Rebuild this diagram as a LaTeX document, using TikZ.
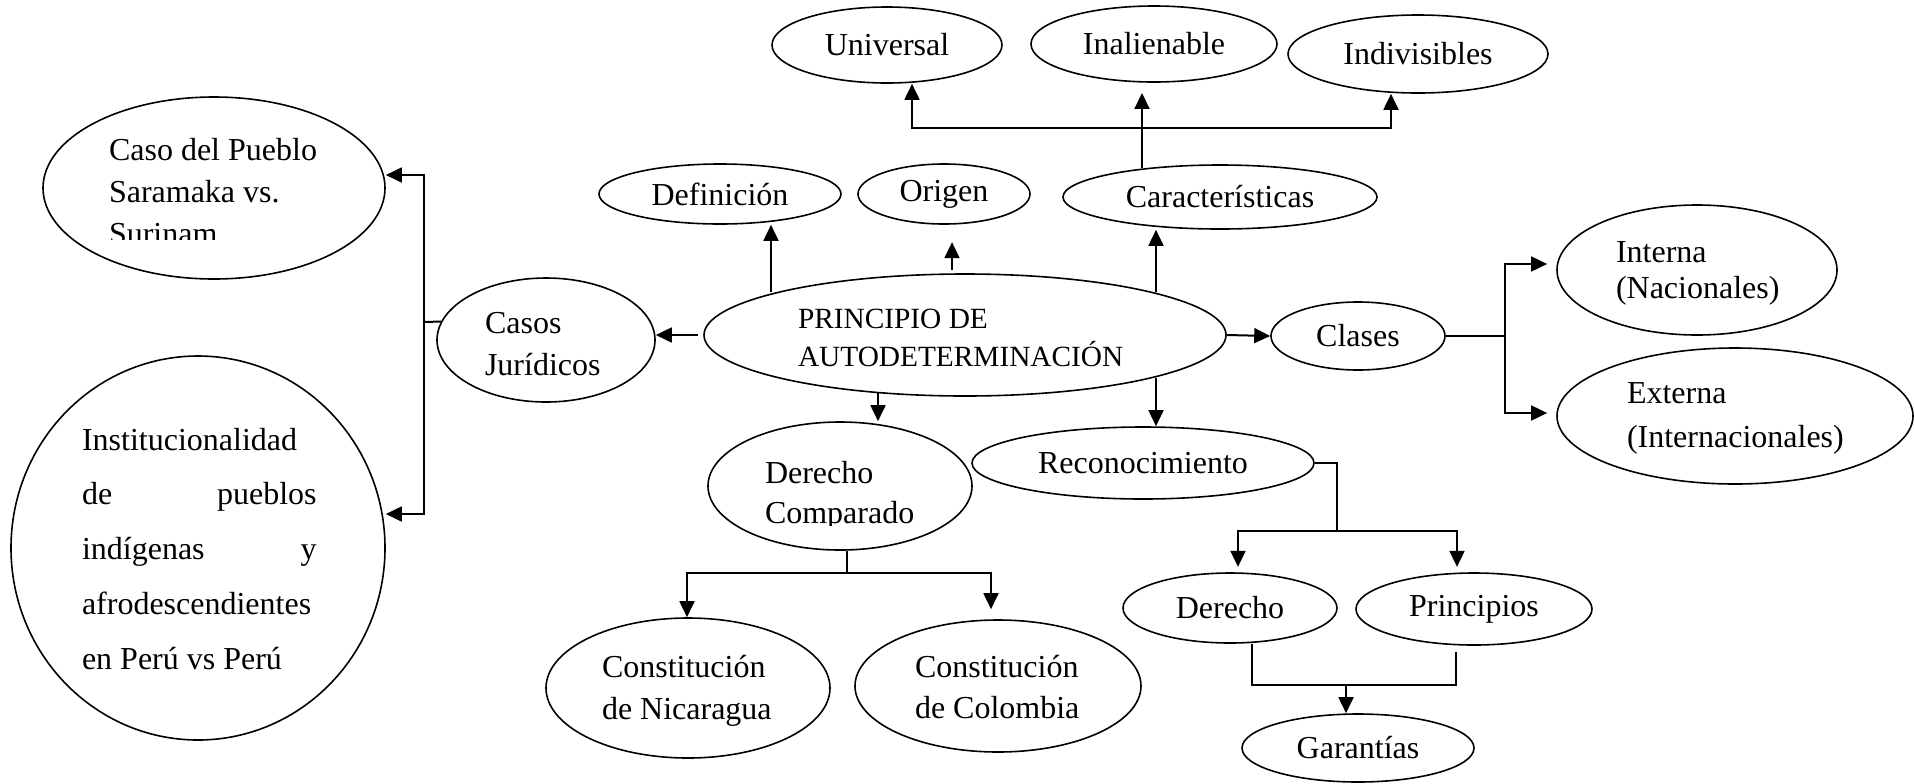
\documentclass[tikz,border=0pt]{standalone}
\usepackage{fontspec}
\setmainfont{Liberation Serif}
\usetikzlibrary{shapes.geometric,arrows.meta}
\begin{document}
\begin{tikzpicture}[x=0.375pt,y=-0.375pt, line width=0.75pt,
  ov/.style 2 args={draw, ellipse, line width=0.6pt, inner sep=0pt, minimum width={0.75pt*#1}, minimum height={0.75pt*#2}, font=\fontsize{12}{14}\selectfont},
  arr/.style={-{Triangle[length=6pt,width=5.6pt]}},
  dbl/.style={{Triangle[length=6pt,width=5.6pt]}-{Triangle[length=6pt,width=5.6pt]}},
  txt/.style={inner sep=0pt, anchor=base west}]
\useasboundingbox (0,0) rectangle (1914,783);
\fill[white] (0,0) rectangle (1914,783);
% ellipses
\node[ov={171}{91}] (caso) at (214,188) {};
\node[ov={187}{192}] (inst) at (198,548) {};
\node[ov={109}{62}] (casos) at (546,340) {};
\node[ov={261}{61}] (princ) at (965,335) {};
\node[ov={121}{30}] (def) at (720,194) {Definición};
\node[ov={86}{30}] (orig) at (944,194) {Origen};
\node[ov={157}{32}] (car) at (1220,197) {Características};
\node[ov={115}{38}] (univ) at (887,45) {Universal};
\node[ov={123}{38}] (inal) at (1154,44) {Inalienable};
\node[ov={130}{39}] (indi) at (1418,54) {Indivisibles};
\node[ov={87}{34}] (cla) at (1358,336) {Clases};
\node[ov={140}{65}] (inte) at (1697,270) {};
\node[ov={178}{68}] (exte) at (1735,416) {};
\node[ov={132}{64}] (dc) at (840,486) {};
\node[ov={171}{36}] (reco) at (1143,463) {Reconocimiento};
\node[ov={107}{35}] (der) at (1230,608) {Derecho};
\node[ov={118}{36}] (prin) at (1474,609) {Principios};
\node[ov={116}{34}] (gar) at (1358,748) {Garantías};
\node[ov={142}{70}] (nic) at (688,688) {};
\node[ov={143}{66}] (col) at (998,686) {};
% texts
\begin{scope}
\clip (90,110) rectangle (420,239);
\node[txt] (casot) at (108,160) {\parbox[t]{120pt}{\raggedright\fontsize{12}{15.75}\selectfont Caso del Pueblo\\ Saramaka vs.\\ Surinam}};
\end{scope}
\node[txt] (instt) at (81,450) {\parbox[t]{88pt}{\fontsize{12}{20.6}\selectfont Institucionalidad\\ de\hfill pueblos\\ indígenas\hfill y\\ afrodescendientes\\ en Perú vs Perú}};
\node[txt] (casost) at (484,333) {\parbox[t]{80pt}{\raggedright\fontsize{12}{15.75}\selectfont Casos\\ Jurídicos}};
\node[txt] (princt) at (797,328) {\parbox[t]{150pt}{\raggedright\fontsize{11}{14.6}\selectfont PRINCIPIO DE\\ AUTODETERMINACIÓN}};
\node[txt] (intet) at (1615,262) {\parbox[t]{90pt}{\raggedright\fontsize{12}{13.5}\selectfont Interna\\ (Nacionales)}};
\node[txt] (extet) at (1626,403) {\parbox[t]{100pt}{\raggedright\fontsize{12}{16.5}\selectfont Externa\\ (Internacionales)}};
\begin{scope}
\clip (700,420) rectangle (980,525);
\node[txt] (dct) at (764,483) {\parbox[t]{90pt}{\raggedright\fontsize{12}{15}\selectfont Derecho\\ Comparado}};
\end{scope}
\node[txt] (nict) at (601,677) {\parbox[t]{90pt}{\raggedright\fontsize{12}{16}\selectfont Constitución\\ de Nicaragua}};
\node[txt] (colt) at (914,677) {\parbox[t]{90pt}{\raggedright\fontsize{12}{15.4}\selectfont Constitución\\ de Colombia}};
% Casos juridicos branches
\coordinate (ct) at (424,175);
\coordinate (cb) at (424,514);
\coordinate (cm) at (424,322);
\draw[dbl] (ct -| caso.east) -- (ct) -- (cb) -- (cb -| inst.east);
\draw (casos.170) -- (cm);
% principio to casos / clases
\draw[arr, shorten <=2pt] (princ.west) -- (princ.west -| casos.east);
\draw[arr] (princ.east) -- (cla.west);
% principio upward
\coordinate (pd) at (771,292);
\draw[arr] (pd) -- (pd |- def.south);
\coordinate (po) at (952,270);
\draw[arr, shorten >=6.5pt] (po) -- (po |- orig.south);
\coordinate (pc) at (1156,292);
\draw[arr] (pc) -- (pc |- car.south);
% caracteristicas to top row
\coordinate (ca) at (1142,168);
\coordinate (bl) at (912,128);
\coordinate (br) at (1391,128);
\draw[arr, shorten >=3.8pt] (ca) -- (ca |- inal.south);
\draw[dbl] (bl |- univ.south) -- (bl) -- (br) -- (br |- indi.south);
% principio downward
\coordinate (pdc) at (878,393);
\draw[arr] (pdc) -- (pdc |- dc.north);
\coordinate (pr) at (1156,378);
\draw[arr] (pr) -- (pr |- reco.north);
% clases
\coordinate (ki) at (1505,264);
\coordinate (ke) at (1505,413);
\draw (cla.east) -- (cla.east -| ki);
\draw[dbl, shorten <=3.4pt, shorten >=3.4pt] (ki -| inte.west) -- (ki) -- (ke) -- (ke -| exte.west);
% reconocimiento
\coordinate (rj) at (1337,531);
\coordinate (rl) at (1238,531);
\coordinate (rr) at (1457,531);
\draw (reco.east) -| (rj);
\draw[dbl, shorten <=2pt, shorten >=2pt] (rl |- der.north) -- (rl) -- (rr) -- (rr |- prin.north);
% garantias
\coordinate (gl) at (1252,685);
\coordinate (gr) at (1456,685);
\coordinate (gm) at (1346,685);
\draw[shorten >=2.3pt] (gl |- der.south) -- (gl) -- (gr) -- (gr |- prin.south);
\draw[arr] (gm) -- (gm |- gar.north);
% derecho comparado
\coordinate (dj) at (847,573);
\coordinate (dl) at (687,573);
\coordinate (dr) at (991,573);
\draw (dj |- dc.south) -- (dj);
\draw[dbl, shorten >=3.75pt] (dl |- nic.north) -- (dl) -- (dr) -- (dr |- col.north);
\end{tikzpicture}
\end{document}
